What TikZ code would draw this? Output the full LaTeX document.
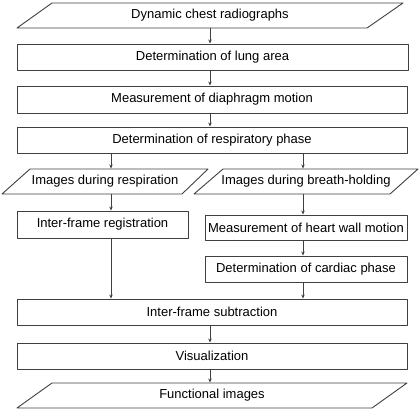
\documentclass[tikz,border=0pt]{standalone}
\usepackage{fontspec}
\setmainfont{Liberation Sans}
\usetikzlibrary{arrows.meta}
\tikzstyle{every node}=[font=\fontsize{13}{15}\selectfont]
\tikzstyle{every path}=[line width=0.9pt,line cap=round,line join=round]
\tikzstyle{stepbox}=[draw=black!75,rectangle,inner sep=0pt]
\tikzstyle{iotext}=[rectangle,inner sep=0pt,minimum height=25]
\tikzstyle{ioline}=[draw=black!75]
\tikzstyle{flow}=[draw=black!75,-{Stealth[length=4pt,width=3.5pt]}]

\begin{document}
\begin{tikzpicture}[x=1pt,y=-1pt]
% Flow chart of the processing
	\useasboundingbox (0,0) rectangle (420,411);
	\newcommand\fullw{390} %width of the wide boxes
	\newcommand\boxh{26} %height of the boxes
	\coordinate (colM) at (210,0); %% middle column of arrows
	\coordinate (colL) at (111,0); %% left column of arrows
	\coordinate (colR) at (303,0); %% right column of arrows
	\node[iotext] (input) at (210,15.5) {Dynamic chest radiographs};
	\draw[ioline] (52,3) -- (403,3) -- (367,28) -- (17,28) -- cycle; %% input parallelogram
	\node[stepbox,minimum width=391,minimum height=\boxh] (lung) at (212.5,57) {Determination of lung area};
	\node[stepbox,minimum width=\fullw,minimum height=27] (diaph) at (212,99.5) {Measurement of diaphragm motion};
	\node[stepbox,minimum width=\fullw,minimum height=\boxh] (resp) at (212,140) {Determination of respiratory phase};
	%% the two branches
	\node[iotext] (imgL) at (105,181.5) {Images during respiration};
	\draw[ioline] (30,169) -- (208,169) -- (182,194) -- (2,194) -- cycle;
	\node[iotext] (imgR) at (306,181.5) {Images during breath-holding};
	\draw[ioline] (223,169) -- (418,169) -- (390,194) -- (194,194) -- cycle;
	\node[stepbox,minimum width=171,minimum height=27] (reg) at (102.5,224.5) {Inter-frame registration};
	\node[stepbox,minimum width=202,minimum height=25] (heart) at (306,227.5) {Measurement of heart wall motion};
	\node[stepbox,minimum width=202,minimum height=\boxh] (cardiac) at (306,269) {Determination of cardiac phase};
	%% joined again
	\node[stepbox,minimum width=\fullw,minimum height=\boxh] (sub) at (212,312) {Inter-frame subtraction};
	\node[stepbox,minimum width=\fullw,minimum height=\boxh] (vis) at (212,356) {Visualization};
	\node[iotext] (output) at (212,395.5) {Functional images};
	\draw[ioline] (52,383) -- (407,383) -- (372,408) -- (17,408) -- cycle; %% output parallelogram
	%% arrows
	\draw[flow] (input.south -| colM) -- (lung.north -| colM);
	\draw[flow] (lung.south -| colM) -- (diaph.north -| colM);
	\draw[flow] (diaph.south -| colM) -- (resp.north -| colM);
	\draw[flow] (resp.south -| colL) -- (imgL.north -| colL);
	\draw[flow] (resp.south -| colR) -- (imgR.north -| colR);
	\draw[flow] (imgL.south -| colL) -- (reg.north -| colL);
	\draw[flow] (imgR.south -| colR) -- (heart.north -| colR);
	\draw[flow] (heart.south -| colR) -- (cardiac.north -| colR);
	\draw[flow] (reg.south -| colL) -- (sub.north -| colL);
	\draw[flow] (cardiac.south -| colR) -- (sub.north -| colR);
	\draw[flow] (sub.south -| colM) -- (vis.north -| colM);
	\draw[flow] (vis.south -| colM) -- (output.north -| colM);
\end{tikzpicture}
\end{document}
